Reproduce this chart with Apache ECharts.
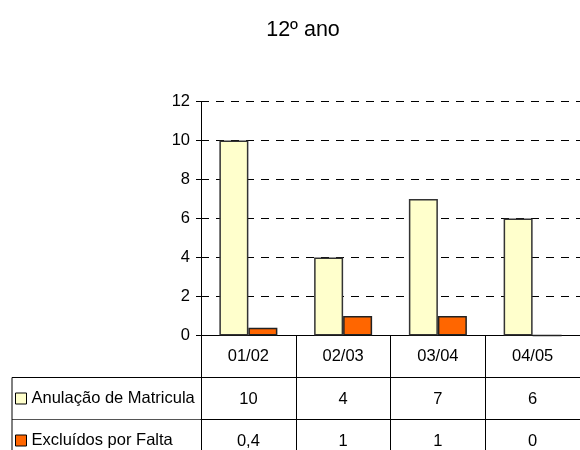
<!DOCTYPE html>
<html>
<head>
<meta charset="utf-8">
<script src="https://cdn.jsdelivr.net/npm/echarts@6/dist/echarts.min.js"></script>
<style>
html,body{margin:0;padding:0;background:#fff;}
#chart{width:580px;height:450px;}
</style>
</head>
<body>
<div id="chart"></div>
<script>
var title = '12º ano';
var categories = ['01/02', '02/03', '03/04', '04/05'];
var seriesNames = ['Anulação de Matricula', 'Excluídos por Falta'];
var anulacao = [10, 4, 7, 6];
var excluidos = [0.4, 1, 1, 0];
var yTicks = [0, 2, 4, 6, 8, 10, 12];

var FONT = '"Liberation Sans Narrow", "Liberation Sans", Arial, sans-serif';
var FS = 16.5;
var GL = 201, GT = 101.5, AXIS_Y = 335.5, ROW = 42, TABLE_L = 12;
var fmt = function (v) { return String(v).replace('.', ','); };

var chart = echarts.init(document.getElementById('chart'), null, {renderer: 'canvas'});

function rowAxis(values, offset) {
  return {
    type: 'category', gridIndex: 0, position: 'bottom', offset: offset,
    data: categories,
    axisLine: {show: true, lineStyle: {color: '#000', width: 1}},
    axisTick: {show: true, interval: 0, length: ROW, lineStyle: {color: '#000'}},
    axisLabel: {interval: 0, margin: 13, color: '#000', fontFamily: FONT, fontSize: FS,
      formatter: function (v, i) { return fmt(values[i]); }},
    splitLine: {show: false}
  };
}

function legendFor(i) {
  return {
    orient: 'vertical', left: 15, top: AXIS_Y + ROW * (i + 1) + 11, padding: 0,
    itemWidth: 11, itemHeight: 11, itemGap: 0,
    icon: 'rect',
    itemStyle: {borderColor: '#000', borderWidth: 1},
    textStyle: {fontFamily: FONT, fontSize: FS, color: '#000', lineHeight: 20},
    data: [seriesNames[i]],
    selectedMode: false
  };
}

var option = {
  animation: false,
  backgroundColor: '#fff',
  title: {
    text: title, left: 298, top: 14, textAlign: 'center',
    textStyle: {fontFamily: FONT, fontSize: 21.5, fontWeight: 'normal', color: '#000'}
  },
  legend: [legendFor(0), legendFor(1)],
  grid: {left: GL, top: GT, width: 393, bottom: 450 - AXIS_Y, containLabel: false},
  xAxis: [
    {
      type: 'category', data: categories, gridIndex: 0, position: 'bottom',
      axisLine: {show: true, lineStyle: {color: '#000', width: 1}},
      axisTick: {show: true, interval: 0, length: ROW, lineStyle: {color: '#000'}},
      axisLabel: {interval: 0, margin: 12, color: '#000', fontFamily: FONT, fontSize: FS},
      splitLine: {show: false}
    },
    rowAxis(anulacao, ROW),
    rowAxis(excluidos, ROW * 2)
  ],
  yAxis: {
    type: 'value', min: yTicks[0], max: yTicks[yTicks.length - 1], interval: 2,
    axisLine: {show: true, lineStyle: {color: '#000', width: 1}},
    axisTick: {show: true, length: 5, lineStyle: {color: '#000'}},
    axisLabel: {margin: 11, color: '#000', fontFamily: FONT, fontSize: FS},
    splitLine: {show: true, lineStyle: {color: '#000', type: [8, 7], width: 1}}
  },
  series: [
    {
      name: seriesNames[0], type: 'bar', data: anulacao, barWidth: 29, barGap: '0%',
      itemStyle: {color: '#FFFFCC', borderColor: '#333', borderWidth: 1.5}
    },
    {
      name: seriesNames[1], type: 'bar', data: excluidos, barWidth: 29, barGap: '0%',
      itemStyle: {color: '#FF6600', borderColor: '#222', borderWidth: 1.5}
    }
  ],
  graphic: [
    {type: 'line', shape: {x1: TABLE_L, y1: AXIS_Y + ROW, x2: GL, y2: AXIS_Y + ROW}, style: {stroke: '#000', lineWidth: 1}},
    {type: 'line', shape: {x1: TABLE_L, y1: AXIS_Y + ROW * 2, x2: GL, y2: AXIS_Y + ROW * 2}, style: {stroke: '#555', lineWidth: 1}},
    {type: 'line', shape: {x1: TABLE_L, y1: AXIS_Y + ROW, x2: TABLE_L, y2: 460}, style: {stroke: '#000', lineWidth: 1}}
  ]
};
chart.setOption(option);
</script>
</body>
</html>
